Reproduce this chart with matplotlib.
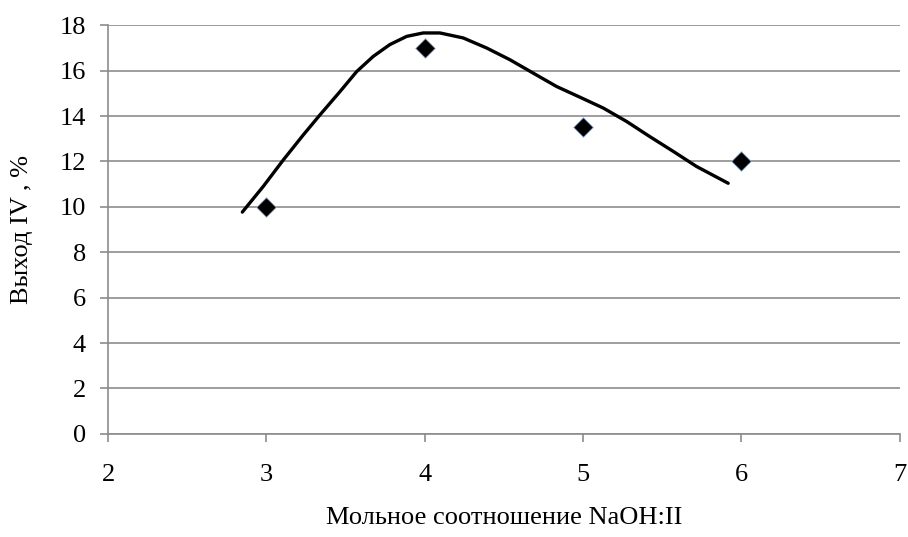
import matplotlib
matplotlib.use('Agg')
import matplotlib.pyplot as plt

# Экспериментальные точки
x_pts = [3, 4, 5, 6]
y_pts = [10, 17, 13.5, 12]

# Сглаженная кривая
x_curve = [2.848, 2.98, 3.107, 3.233, 3.338, 3.465, 3.57, 3.675, 3.78, 3.886, 3.99,
           4.096, 4.243, 4.39, 4.538, 4.685, 4.833, 4.98, 5.128, 5.275, 5.42, 5.57,
           5.716, 5.916]
y_curve = [9.77, 10.9, 12.07, 13.17, 14.05, 15.08, 15.96, 16.63, 17.15, 17.51, 17.66,
           17.66, 17.44, 17.0, 16.48, 15.89, 15.3, 14.83, 14.35, 13.76, 13.1, 12.44,
           11.78, 11.04]

plt.rcParams['font.family'] = ['Liberation Serif', 'DejaVu Serif']

fig = plt.figure(figsize=(9.08, 5.37), dpi=100)
ax = fig.add_axes([0.119, 0.192, 0.872, 0.761])

ax.plot(x_curve, y_curve, color='black', linewidth=2.4, solid_capstyle='round',
        solid_joinstyle='round', zorder=3)
ax.scatter(x_pts, y_pts, marker='D', s=100, color='black', edgecolors='#9bb7d9',
           linewidths=0.6, zorder=4)

ax.set_xlim(2, 7)
ax.set_ylim(0, 18)
ax.set_xticks([2, 3, 4, 5, 6, 7])
ax.set_yticks(range(0, 19, 2))
ax.yaxis.grid(True, color='#8c8c8c', linewidth=1.2)
ax.set_axisbelow(True)

for s in ['top', 'right']:
    ax.spines[s].set_visible(False)
for s in ['left', 'bottom']:
    ax.spines[s].set_color('#8c8c8c')
    ax.spines[s].set_linewidth(1.2)
ax.tick_params(axis='both', colors='#8c8c8c', length=6, width=1.2,
               labelcolor='black', labelsize=19)
ax.tick_params(axis='x', pad=15.5)
ax.tick_params(axis='y', pad=10)

ax.set_xlabel('Мольное соотношение NaOH:II', fontsize=19, labelpad=15)
ax.set_ylabel('Выход IV , %', fontsize=19, labelpad=19)

fig.savefig('out.png', dpi=100)
